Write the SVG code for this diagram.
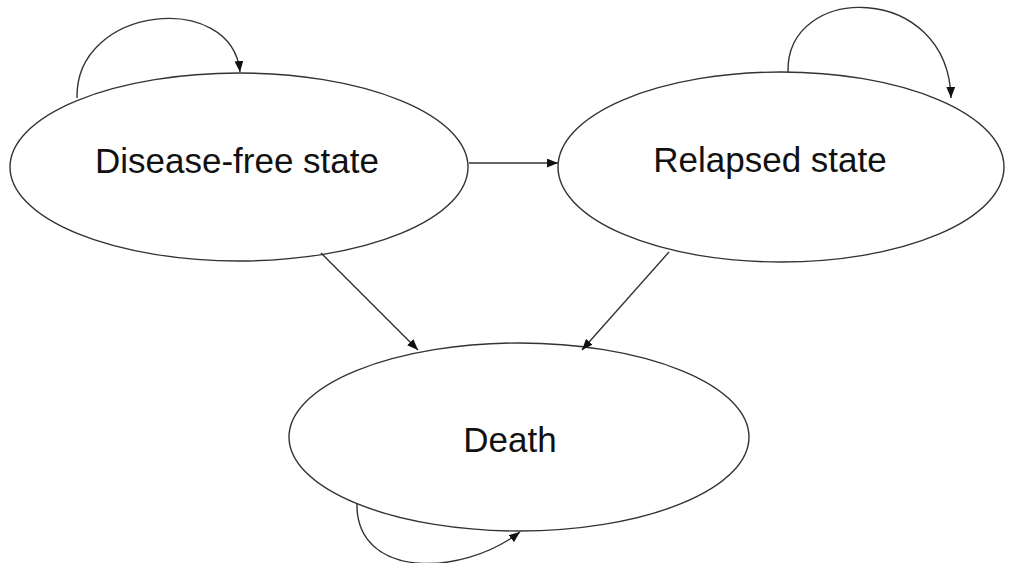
<svg xmlns="http://www.w3.org/2000/svg" width="1010" height="563" viewBox="0 0 1010 563">
<defs>
<marker id="arr" viewBox="0 0 10 8" refX="10" refY="4" markerWidth="11" markerHeight="9" markerUnits="userSpaceOnUse" orient="auto">
<path d="M0,0 L10,4 L0,8 Z" fill="#111"/>
</marker>
<style>
.node ellipse{fill:#fff;stroke:#333;stroke-width:1.4}
.node text{font-family:"Liberation Sans",Arial,sans-serif;font-size:35px;fill:#111;text-anchor:middle}
.edge{fill:none;stroke:#333;stroke-width:1.4;marker-end:url(#arr)}
</style>
</defs>
<rect width="1010" height="563" fill="#fff"/>
<g id="n-disease-free" class="node">
<ellipse cx="239" cy="167" rx="229" ry="94"/>
<text x="237" y="173">Disease-free state</text>
</g>
<g id="n-relapsed" class="node">
<ellipse cx="781" cy="167" rx="223" ry="95"/>
<text x="770" y="172">Relapsed state</text>
</g>
<g id="n-death" class="node">
<ellipse cx="519" cy="437" rx="230" ry="94"/>
<text x="510" y="452">Death</text>
</g>
<g id="connectors">
<path class="edge" d="M77,98 C75,5 232,-10 240,72"/>
<path class="edge" d="M788,72 C786,-18 948,-18 951,98"/>
<path class="edge" d="M357,503 C355,578 460,578 520,532"/>
<path class="edge" d="M469,163 L558,163"/>
<path class="edge" d="M321,253 L418,350"/>
<path class="edge" d="M669,252 L582,350"/>
</g>
</svg>
